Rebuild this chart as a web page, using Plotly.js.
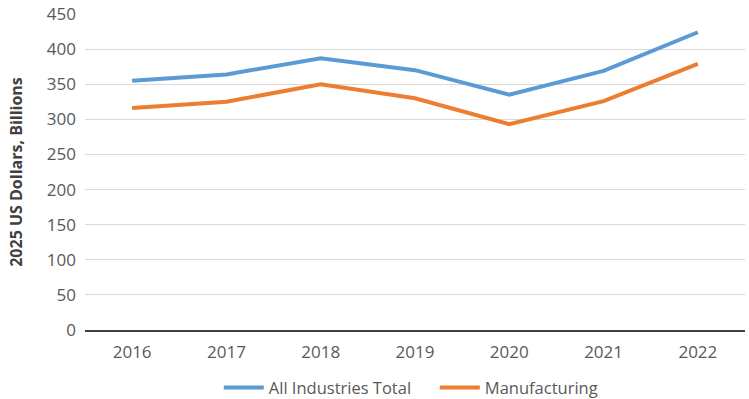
<!DOCTYPE html>
<html>
<head>
<meta charset="utf-8">
<script src="https://cdn.plot.ly/plotly-3.0.1.min.js"></script>
<style>html,body{margin:0;padding:0;background:#fff;}#chart{width:749px;height:399px;}</style>
</head>
<body>
<div id="chart"></div>
<script>
const years = ['2016','2017','2018','2019','2020','2021','2022'];
const allIndustries = [355, 364, 387, 370, 335, 369, 424];
const manufacturing = [316, 325, 350, 330, 293, 326, 379];
const yTicks = [0, 50, 100, 150, 200, 250, 300, 350, 400, 450];

const traces = [
  {x: years, y: allIndustries, type: 'scatter', mode: 'lines', name: 'All Industries Total',
   line: {color: '#5B9BD5', width: 4}},
  {x: years, y: manufacturing, type: 'scatter', mode: 'lines', name: 'Manufacturing',
   line: {color: '#ED7D31', width: 4}}
];

const layout = {
  width: 749, height: 399,
  margin: {l: 85, r: 4, t: 14, b: 69, autoexpand: false},
  paper_bgcolor: '#fff', plot_bgcolor: '#fff',
  font: {family: '"Open Sans", sans-serif', color: '#595959', size: 16},
  xaxis: {type: 'category', range: [-0.5, 6.5], showgrid: false, showline: true, linecolor: '#404040', linewidth: 2,
          ticks: '', tickfont: {size: 17, color: '#595959'}, ticklabelstandoff: 6, automargin: false, fixedrange: true},
  yaxis: {range: [0, 450], tickvals: yTicks, showgrid: true, gridcolor: '#d9d9d9', gridwidth: 1,
          zeroline: false, showline: false, ticks: '', ticklen: 0, ticklabelstandoff: 8, automargin: false,
          tickfont: {size: 17, color: '#595959'},
          title: {text: '2025 US Dollars, Billions', font: {family: '"Open Sans", sans-serif', size: 16, color: '#404040', weight: 'bold'}, standoff: 20}},
  showlegend: true,
  legend: {orientation: 'h', x: 0.53, xanchor: 'center', yref: 'container', y: 0.028, yanchor: 'middle',
           font: {size: 16.5, color: '#595959'}, itemwidth: 40, entrywidth: 161, traceorder: 'normal'}
};

Plotly.newPlot('chart', traces, layout, {displayModeBar: false, staticPlot: true});
</script>
</body>
</html>
